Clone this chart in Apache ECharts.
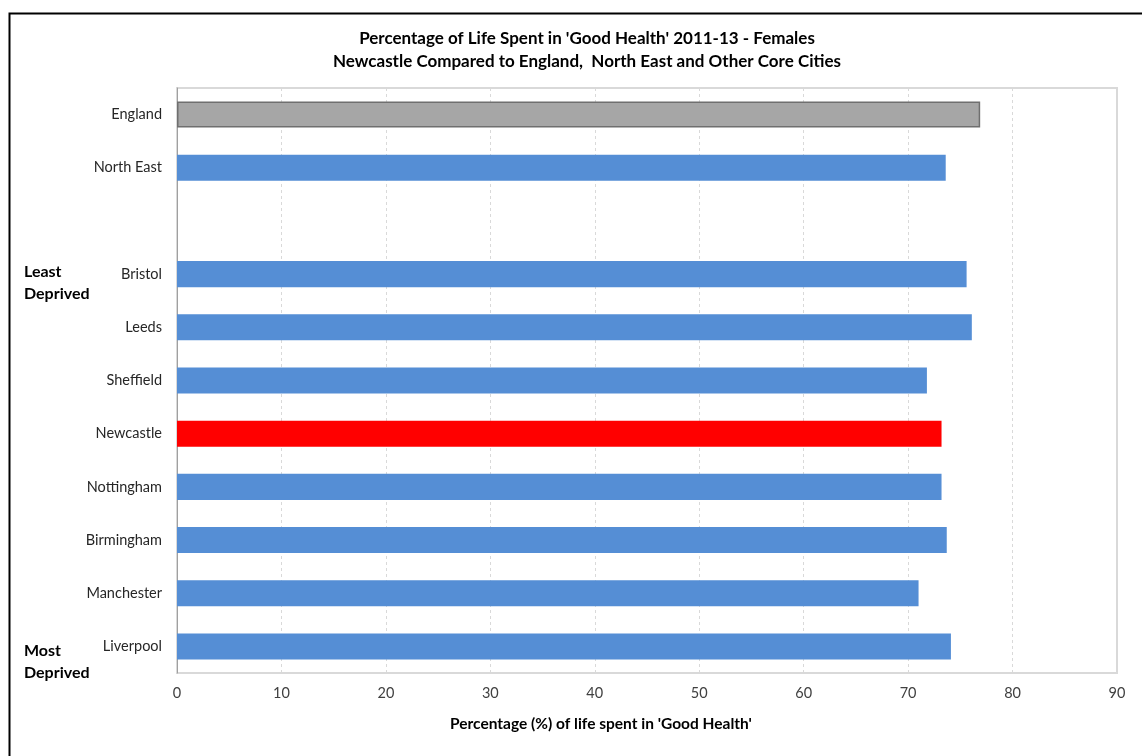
<!DOCTYPE html>
<html lang="en">
<head>
    <meta charset="UTF-8">
    <title>Good Health - Females</title>
    <script src="https://cdn.jsdelivr.net/npm/echarts@6/dist/echarts.min.js"></script>
    <style>
        html, body { margin: 0; padding: 0; background: #fff; }
    </style>
</head>
<body>
    <div id="main" style="width:1142px;height:756px;"></div>
    <script>
// areas, top to bottom (blank slot separates comparators from core cities)
var areas = ['England', 'North East', '', 'Bristol', 'Leeds', 'Sheffield', 'Newcastle', 'Nottingham', 'Birmingham', 'Manchester', 'Liverpool'];
var values = [76.9, 73.6, null, 75.6, 76.1, 71.8, 73.2, 73.2, 73.7, 71.0, 74.1];
var xTicks = [0, 10, 20, 30, 40, 50, 60, 70, 80, 90];

var barColors = { 'England': '#a6a6a6', 'Newcastle': '#ff0000' };
var FONT = 'Lato, "Liberation Sans", sans-serif';

var myChart = echarts.init(document.getElementById('main'));

var seriesData = areas.map(function (a, i) {
    var item = { value: values[i] };
    if (a === 'England') {
        item.itemStyle = { color: barColors[a], borderColor: '#6f6f6f', borderWidth: 1.5 };
    } else if (barColors[a]) {
        item.itemStyle = { color: barColors[a] };
    }
    return item;
});

var option = {
    animation: false,
    title: {
        text: "Percentage of Life Spent in 'Good Health' 2011-13 - Females\nNewcastle Compared to England,  North East and Other Core Cities",
        left: 582,
        top: 22,
        textAlign: 'center',
        textStyle: { fontFamily: FONT, fontSize: 17, fontWeight: 'bold', color: '#000', lineHeight: 23 }
    },
    grid: {
        left: 177, right: 25, top: 88, bottom: 83,
        show: true, borderColor: '#d9d9d9', borderWidth: 2, backgroundColor: '#fff'
    },
    xAxis: {
        type: 'value',
        min: xTicks[0],
        max: xTicks[xTicks.length - 1],
        interval: 10,
        axisLine: { show: false },
        axisTick: { show: false },
        axisLabel: { fontFamily: FONT, fontSize: 14.5, color: '#404040', margin: 13 },
        splitLine: { show: true, lineStyle: { color: '#d9d9d9', type: [3, 3], width: 1 } }
    },
    yAxis: {
        type: 'category',
        data: areas,
        inverse: true,
        axisLine: { show: true, lineStyle: { color: '#a0a0a0', width: 1 } },
        axisTick: { show: false },
        axisLabel: { fontFamily: FONT, fontSize: 14.5, color: '#262626', margin: 15 }
    },
    series: [{
        type: 'bar',
        data: seriesData,
        barCategoryGap: '51%',
        itemStyle: { color: '#558ed5' }
    }],
    graphic: [
        {
            type: 'rect', left: 7, top: 11,
            shape: { width: 1134, height: 760 },
            style: { fill: 'none', stroke: '#000', lineWidth: 2 },
            silent: true
        },
        {
            type: 'text', left: 450, top: 716,
            style: { text: "Percentage (%) of life spent in 'Good Health'", fontFamily: FONT, fontSize: 15.5, fontWeight: 'bold', fill: '#000' }
        },
        {
            type: 'text', left: 24, top: 261,
            style: { text: 'Least\nDeprived', fontFamily: FONT, fontSize: 16, fontWeight: 'bold', fill: '#000', lineHeight: 22 }
        },
        {
            type: 'text', left: 24, top: 640,
            style: { text: 'Most\nDeprived', fontFamily: FONT, fontSize: 16, fontWeight: 'bold', fill: '#000', lineHeight: 22 }
        }
    ]
};

myChart.setOption(option);
    </script>
</body>
</html>
